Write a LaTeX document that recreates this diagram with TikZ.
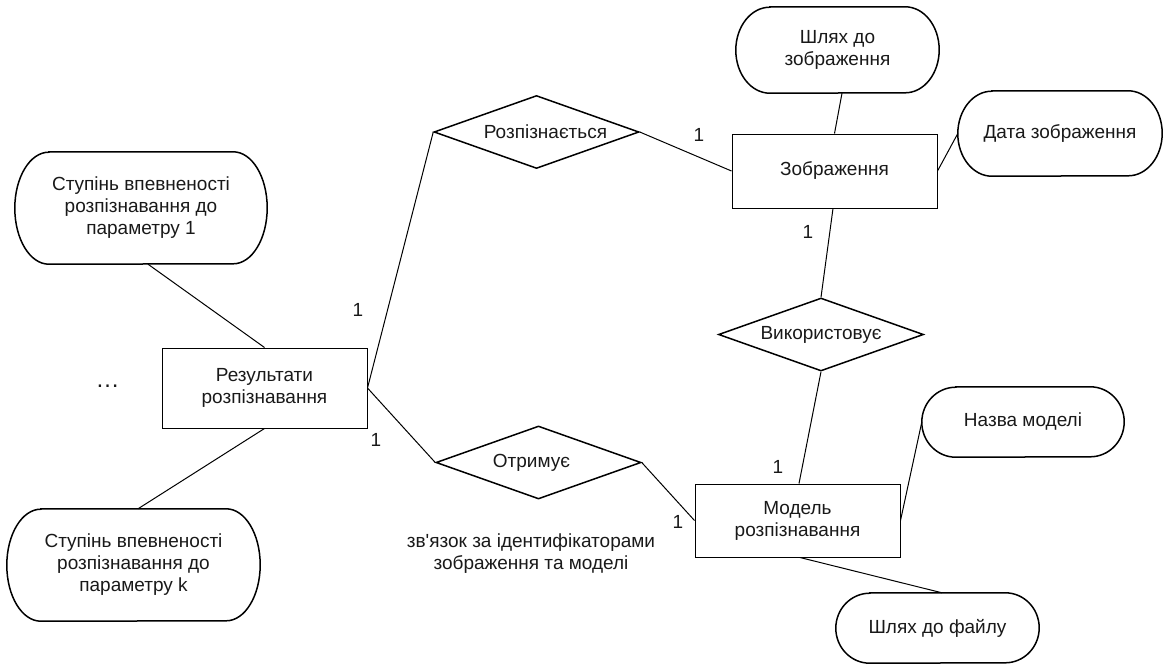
\documentclass[tikz,border=0pt]{standalone}
\usepackage{fontspec}
\setmainfont{Liberation Sans}[Ligatures=TeXOff]
\usetikzlibrary{shapes.geometric}

\tikzset{
  every node/.style={font=\fontsize{19}{22}\selectfont, text=black!90},
  entity/.style={draw, line width=1pt, minimum width=205pt, align=center, inner sep=0pt},
  relation/.style={draw, diamond, line width=1.5pt, aspect=2.8,
    minimum width=205pt, minimum height=73pt, inner sep=0pt},
  attrbox/.style={align=center, inner sep=0pt},
  link/.style={line width=1pt},
  card/.style={inner sep=0pt},
  outline/.style={line width=1.5pt},
}

% stadium outline with elliptic ends around a named node: #1 name, #2 half height
\newcommand\stadiumframe[2]{%
  \draw[outline] ([xshift=34pt]#1.north west) -- ([xshift=-34pt]#1.north east)
    arc[start angle=90, end angle=-90, x radius=34pt, y radius=#2]
    -- ([xshift=34pt]#1.south west)
    arc[start angle=270, end angle=90, x radius=34pt, y radius=#2] -- cycle;}

\begin{document}
\begin{tikzpicture}[x=1pt, y=-1pt]
\useasboundingbox (0,0) rectangle (1165,664);

% entities
\node[entity, minimum height=80pt] (res) at (264.5,388) {Результати\\розпізнавання};
\node[entity, minimum height=74pt] (img) at (834.5,171) {Зображення};
\node[entity, minimum height=73pt] (mod) at (797.5,520.5) {Модель\\розпізнавання};

% relationships
\node[relation] (rel1) at (536.5,132) {\hspace*{18pt}Розпізнається};
\node[relation] (rel2) at (821,334.5) {Використовує};
\node[relation] (rel3) at (538.5,462.5) {Отримує\hspace*{14pt}};

% attributes
\node[attrbox, minimum width=252pt, minimum height=112pt] (a1) at (141,208)
  {Ступінь впевненості\\розпізнавання до\\параметру 1};
\node[attrbox, minimum width=253pt, minimum height=112pt] (ak) at (133.5,565)
  {Ступінь впевненості\\розпізнавання до\\параметру k};
\node[attrbox, minimum width=203pt, minimum height=86pt] (a3) at (837.5,50)
  {Шлях до\\зображення};
\node[attrbox, minimum width=204pt, minimum height=85pt] (a4) at (1060,133.5)
  {Дата зображення};
\node[attrbox, minimum width=202pt, minimum height=70pt] (a5) at (1023,422)
  {Назва моделі};
\node[attrbox, minimum width=203pt, minimum height=70pt] (a6) at (937.5,628)
  {Шлях до файлу};

\stadiumframe{a1}{56pt}
\stadiumframe{ak}{56pt}
\stadiumframe{a3}{43pt}
\stadiumframe{a4}{42.5pt}
\stadiumframe{a5}{35pt}
\stadiumframe{a6}{35pt}

% connectors
\draw[link] ([xshift=7pt]a1.south) -- (res.north);
\draw[link] (res.south) -- ([xshift=4.5pt]ak.north);
\draw[link] (res.east) -- (rel1.west);
\draw[link] (res.east) -- (rel3.west);
\draw[link] (rel1.east) -- (img.west);
\draw[link] ([xshift=4.5pt]a3.south) -- (img.north);
\draw[link] (img.east) -- (a4.west);
\draw[link] ([xshift=-1.5pt]img.south) -- (rel2.north);
\draw[link] (rel2.south) -- ([xshift=1.5pt]mod.north);
\draw[link] (rel3.east) -- (mod.west);
\draw[link] (mod.east) -- (a5.west);
\draw[link] ([xshift=2.5pt]mod.south) -- ([xshift=4.5pt]a6.north);

% cardinalities
\node[card] (c1) at (358,310) {1};
\node[card] (c2) at (376,440) {1};
\node[card] (c3) at (699,135) {1};
\node[card] (c4) at (808,232) {1};
\node[card] (c5) at (778,467) {1};
\node[card] (c6) at (678,522) {1};

% omitted attributes
\node[inner sep=0pt, anchor=base, font=\fontsize{24}{24}\selectfont] (dots) at (107.5,387) {…};

% note under the relationship
\node[align=center, inner sep=0pt] (note) at (531,554)
  {зв'язок за ідентифікаторами\\зображення та моделі};
\end{tikzpicture}
\end{document}
